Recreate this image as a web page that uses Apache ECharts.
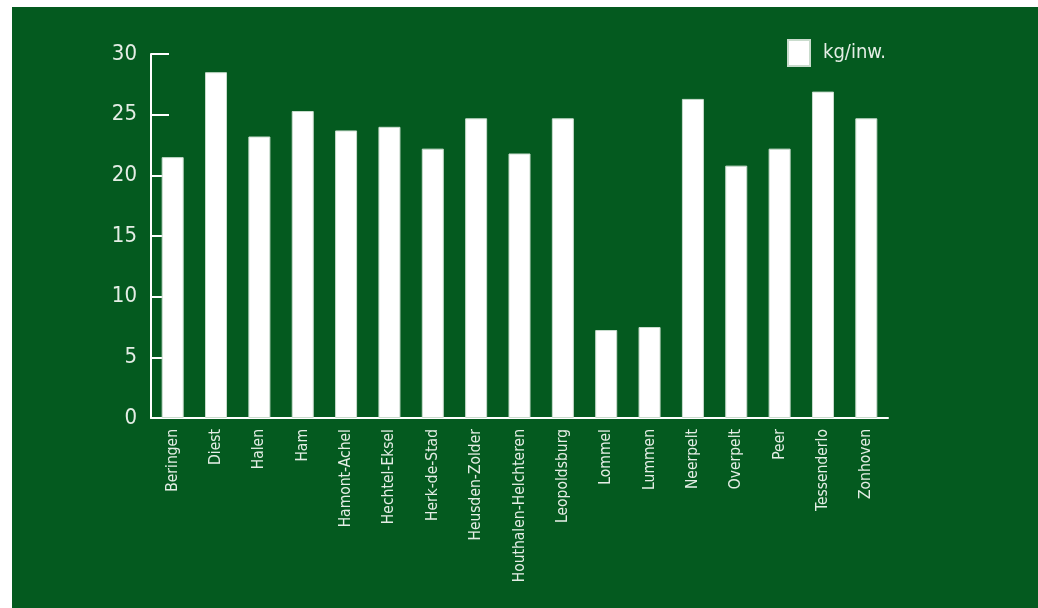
<!DOCTYPE html>
<html>
<head>
<meta charset="utf-8">
<script src="https://cdn.jsdelivr.net/npm/echarts@6/dist/echarts.min.js"></script>
<style>
html,body{margin:0;padding:0;background:#ffffff;}
#c{width:1038px;height:608px;}
</style>
</head>
<body>
<div id="c"></div>
<script>
const categories = ["Beringen","Diest","Halen","Ham","Hamont-Achel","Hechtel-Eksel","Herk-de-Stad","Heusden-Zolder","Houthalen-Helchteren","Leopoldsburg","Lommel","Lummen","Neerpelt","Overpelt","Peer","Tessenderlo","Zonhoven"];
const values = [21.5, 28.5, 23.2, 25.3, 23.7, 24.0, 22.2, 24.7, 21.8, 24.7, 7.25, 7.5, 26.3, 20.8, 22.2, 26.9, 24.7];
const seriesName = "kg/inw.";
const yTicks = {min: 0, max: 30, interval: 5};

const FONT = '"Liberation Sans Narrow", "DejaVu Sans Condensed", sans-serif';
const TXT = '#e4ede5';
const chart = echarts.init(document.getElementById('c'));
chart.setOption({
  backgroundColor: 'transparent',
  animation: false,
  graphic: [{
    type: 'rect', left: 12, top: 7, z: -10, silent: true,
    shape: {width: 1026, height: 601},
    style: {fill: '#045a1f'}
  }],
  grid: {left: 151, right: 150, top: 54, bottom: 190, containLabel: false},
  legend: {
    data: [seriesName], left: 782, top: 34,
    itemWidth: 22, itemHeight: 26, icon: 'rect',
    textStyle: {color: TXT, fontFamily: FONT, fontSize: 20, padding: [0,0,0,8]}
  },
  xAxis: {
    type: 'category', data: categories,
    axisLine: {lineStyle: {color: '#ffffff', width: 2}},
    axisTick: {show: false},
    axisLabel: {rotate: 90, interval: 0, margin: 11, color: TXT, fontFamily: FONT, fontSize: 15.5}
  },
  yAxis: {
    type: 'value', min: yTicks.min, max: yTicks.max, interval: yTicks.interval,
    axisLine: {show: true, lineStyle: {color: '#ffffff', width: 2}},
    axisTick: {show: true, inside: true, length: 18, lineStyle: {color: '#ffffff', width: 2}},
    splitLine: {show: false},
    axisLabel: {margin: 14, color: TXT, fontFamily: FONT, fontSize: 22, padding: [8,0,0,0]}
  },
  series: [{
    name: seriesName, type: 'bar', data: values, barWidth: 22,
    itemStyle: {color: '#ffffff', borderColor: '#c9dccd', borderWidth: 1}
  }]
});
</script>
</body>
</html>
